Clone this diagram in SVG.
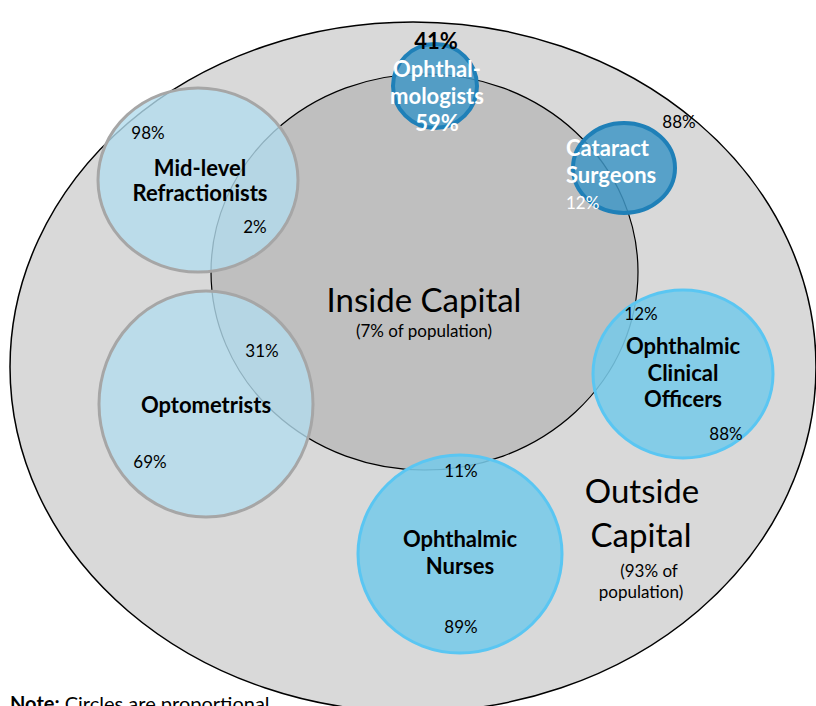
<svg xmlns="http://www.w3.org/2000/svg" width="816" height="706" viewBox="0 0 816 706">
<style>
text{font-family:Lato,"Open Sans","Liberation Sans",sans-serif;text-anchor:middle;fill:#000}
.b{font-weight:bold;font-size:22px}
.w{fill:#fff}
.s{text-anchor:start}
.p{font-size:17px}
.big{font-size:33px}
.light{fill:#b3dcee;fill-opacity:0.8;stroke:#a6a6a6;stroke-width:3}
.mid{fill:#78c9e8;fill-opacity:0.88;stroke:#5ac6f2;stroke-width:3}
.dark{fill:#3f97c6;fill-opacity:0.85;stroke:#1f80b8;stroke-width:4}
</style>
<rect width="816" height="706" fill="#fff"/>
<g id="outside">
<ellipse cx="413" cy="367" rx="403" ry="345" fill="#d9d9d9" stroke="#000" stroke-width="1.5"/>
</g>
<g id="inside">
<ellipse cx="424.5" cy="272" rx="213.5" ry="198" fill="#bfbfbf" stroke="#000" stroke-width="1.2"/>
<text x="424" y="312" class="big">Inside Capital</text>
<text x="424" y="337" class="p">(7% of population)</text>
</g>
<g id="outside-label">
<text x="642" y="503" class="big">Outside</text>
<text x="641" y="547" class="big">Capital</text>
<text x="649" y="577" class="p">(93% of</text>
<text x="641" y="598" class="p">population)</text>
</g>
<g id="ophthalmologists">
<circle cx="435" cy="86" r="42" class="dark"/>
<text x="436" y="49" class="b" font-size="18">41%</text>
<text x="437" y="77" class="b w" font-size="23">Ophthal-</text>
<text x="437" y="104" class="b w" font-size="23">mologists</text>
<text x="437" y="131" class="b w" font-size="18">59%</text>
</g>
<g id="cataract">
<ellipse cx="624" cy="168" rx="51" ry="45" class="dark"/>
<text x="566" y="156" class="b w s" font-size="23">Cataract</text>
<text x="566" y="183" class="b w s" font-size="23">Surgeons</text>
<text x="566" y="209" class="w p s">12%</text>
<text x="679" y="128" class="p">88%</text>
</g>
<g id="midlevel">
<ellipse cx="198" cy="180" rx="100" ry="92" class="light"/>
<text x="148" y="139" class="p">98%</text>
<text x="200" y="176" class="b">Mid-level</text>
<text x="200" y="201" class="b">Refractionists</text>
<text x="255" y="233" class="p">2%</text>
</g>
<g id="optometrists">
<ellipse cx="206" cy="404" rx="107" ry="113" class="light"/>
<text x="206" y="413" class="b">Optometrists</text>
<text x="262" y="357" class="p">31%</text>
<text x="150" y="468" class="p">69%</text>
</g>
<g id="officers">
<ellipse cx="683" cy="374" rx="90" ry="84" class="mid"/>
<text x="641" y="320" class="p">12%</text>
<text x="683" y="354" class="b">Ophthalmic</text>
<text x="683" y="381" class="b">Clinical</text>
<text x="683" y="407" class="b">Officers</text>
<text x="726" y="440" class="p">88%</text>
</g>
<g id="nurses">
<ellipse cx="460" cy="554" rx="102" ry="99" class="mid"/>
<text x="461" y="477" class="p">11%</text>
<text x="460" y="547" class="b">Ophthalmic</text>
<text x="460" y="574" class="b">Nurses</text>
<text x="461" y="633" class="p">89%</text>
</g>
<g id="connectors"></g>
<g id="note">
<text x="10" y="711" class="s" font-size="20"><tspan font-weight="bold">Note:</tspan> Circles are proportional</text>
</g>
</svg>
